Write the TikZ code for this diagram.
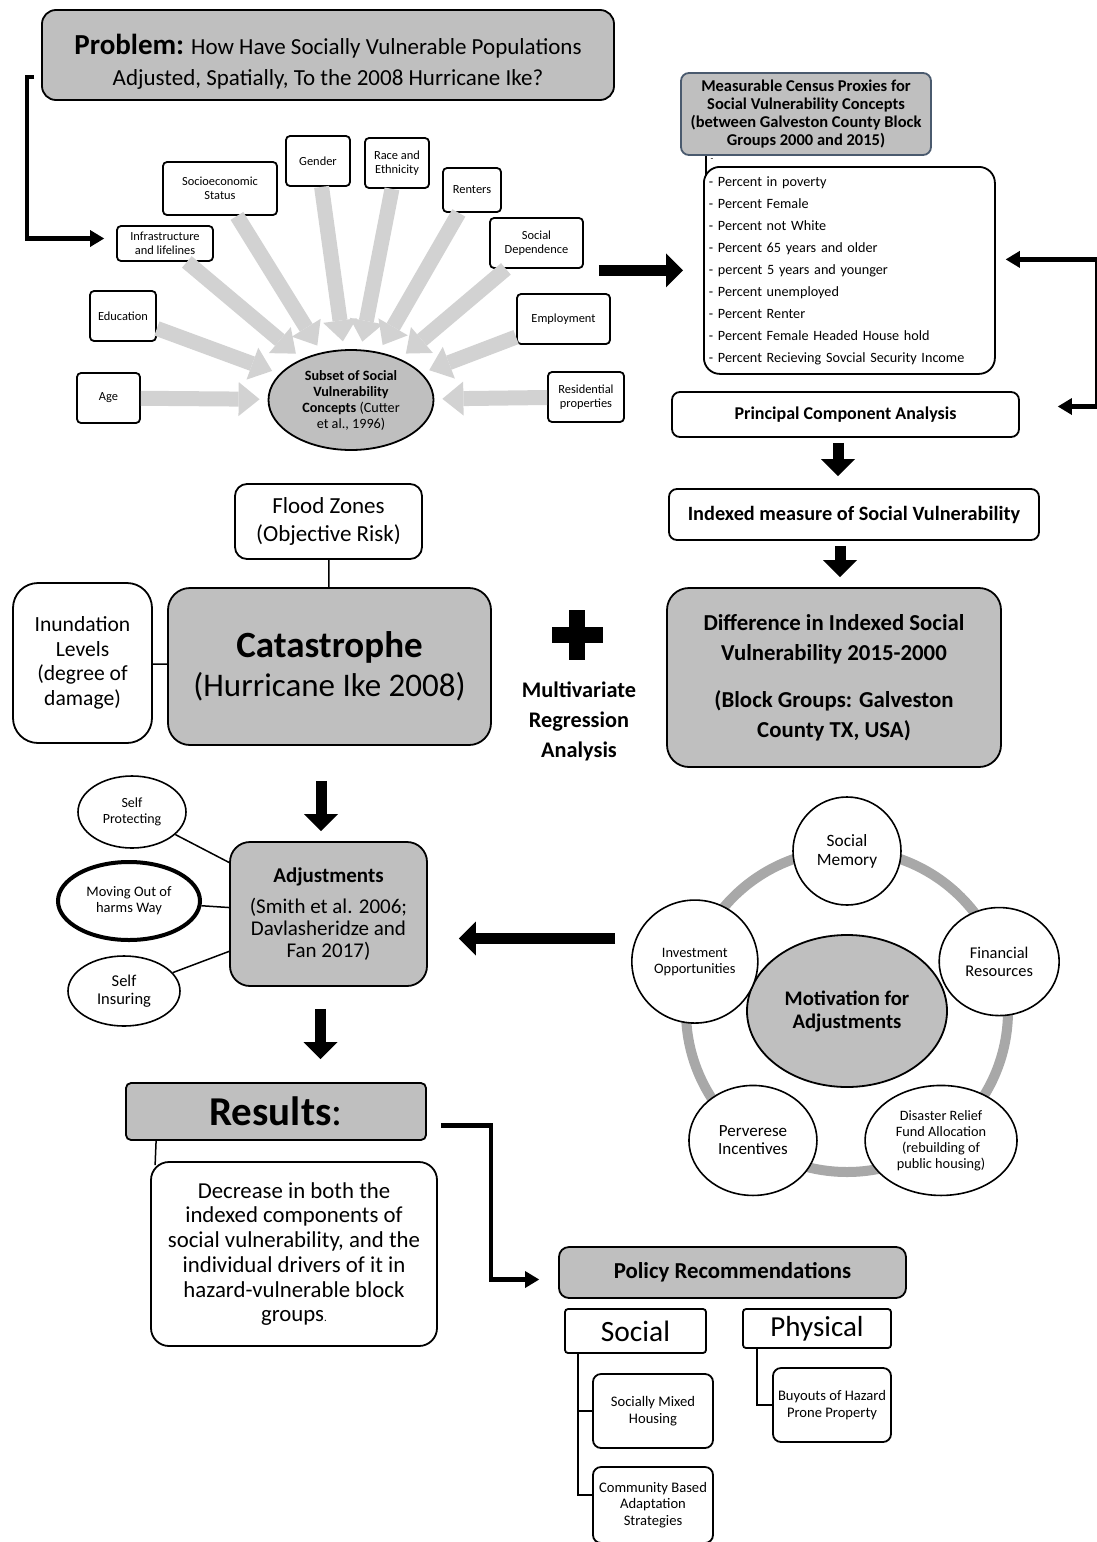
\documentclass[tikz,border=0pt]{standalone}
\usepackage{fontspec}
\setmainfont{Carlito}
\usepackage{tikz}
\usetikzlibrary{shapes.geometric, arrows.meta, positioning}

\definecolor{boxgrey}{HTML}{BFBFBF}
\definecolor{fatgrey}{HTML}{D2D2D2}
\definecolor{ringgrey}{HTML}{A8A8A8}
\definecolor{slateedge}{HTML}{4A5A6E}
\newcommand{\fsz}[2]{\fontsize{#1}{#2}\selectfont}

\begin{document}
\begin{tikzpicture}[
        x=1pt, y=-1pt,
        box/.style={rectangle, draw, line width=1.8pt, rounded corners=10pt, align=center, inner sep=0pt, fill=white},
        greybox/.style={box, fill=boxgrey},
        concept/.style={box, line width=1.8pt, rounded corners=4pt, font=\fsz{12.4}{13.5}},
        bubble/.style={ellipse, draw, line width=1.6pt, align=center, inner sep=0pt, fill=white},
        fat/.style={line width=15pt, draw=fatgrey, -{Triangle[width=34pt,length=21pt,line width=0pt]}, shorten >=8pt},
        blk/.style={line width=11pt, -{Triangle[width=34pt,length=17pt,line width=0pt]}},
        elbow/.style={line width=4.5pt, -{Triangle[width=17pt,length=14pt,line width=0pt]}},
        link/.style={line width=1.5pt}
    ]
    \useasboundingbox (0,0) rectangle (1097,1542);

    % Problem statement
    \node[greybox, rounded corners=14pt, minimum width=572pt, minimum height=90pt, font=\fsz{23}{31}] (prob) at (328,55)
        {\rule{0pt}{34pt}{\fsz{29}{31}\bfseries Problem:} How Have Socially Vulnerable Populations\\Adjusted, Spatially, To the 2008 Hurricane Ike?};

    % Concepts
    \node[greybox, ellipse, minimum width=165pt, minimum height=100pt, font=\fsz{14.2}{16}] (sub) at (351,400)
        {\textbf{Subset of Social}\\\textbf{Vulnerability}\\\textbf{Concepts} (Cutter\\et\ al., 1996)};
    \node[concept, minimum width=96pt, minimum height=35pt] (infra) at (165,243.5) {Infrastructure\\and lifelines};
    \node[concept, minimum width=114pt, minimum height=53pt, font=\fsz{12.4}{14}] (soc) at (220,188.5) {Socioeconomic\\Status};
    \node[concept, minimum width=64pt, minimum height=50pt] (gen) at (318,161) {Gender};
    \node[concept, minimum width=64pt, minimum height=50pt, font=\fsz{12.4}{14}] (race) at (397,163) {Race and\\Ethnicity};
    \node[concept, minimum width=58pt, minimum height=44pt] (rent) at (472,190) {Renters};
    \node[concept, minimum width=93pt, minimum height=50pt, font=\fsz{12.4}{14}] (dep) at (536.5,243) {Social\\Dependence};
    \node[concept, minimum width=66pt, minimum height=50pt] (edu) at (123,316) {Education};
    \node[concept, minimum width=93pt, minimum height=50pt] (emp) at (563.5,319) {Employment};
    \node[concept, minimum width=63pt, minimum height=50pt] (age) at (108.5,398) {Age};
    \node[concept, minimum width=76pt, minimum height=50pt, font=\fsz{12.4}{14}] (resid) at (586,397) {Residential\\properties};

    \foreach \c in {age, edu, infra, soc, gen, race, rent, dep, emp, resid}
        \draw[fat] (\c) -- (sub);

    \draw[elbow] ([xshift=-7pt,yshift=-22pt]prob.west) -- ++(-7,0) |- ([xshift=-12pt,yshift=5pt]infra.west);

    % Census proxies
    \node[greybox, draw=slateedge, rounded corners=8pt, minimum width=250pt, minimum height=82pt, font=\fsz{16.5}{18}\bfseries] (proxy) at (806,114)
        {Measurable Census Proxies for\\Social Vulnerability Concepts\\(between Galveston County Block\\Groups 2000 and 2015)};
    \node[box, rounded corners=16pt, anchor=north west, text width=281pt, inner xsep=5pt, minimum height=207pt, align=left, font=\fsz{14.2}{22}] (list) at (703,166)
        {- Percent in poverty\\- Percent Female\\- Percent not White\\- Percent 65 years and older\\- percent 5 years and younger\\- Percent unemployed\\- Percent Renter\\- Percent Female Headed House hold\\- Percent Recieving Sovcial Security Income};
    \node[font=\fsz{9}{9}, inner sep=0pt] (dash) at (712,160) {-};
    \draw[link] ([xshift=-100pt]proxy.south) -- ([xshift=3pt,yshift=-10pt]list.north west);

    \draw[blk] ([xshift=15pt]dep.east |- list.west) -- ([xshift=-20pt]list.west);

    \node[box, rounded corners=8pt, minimum width=347pt, minimum height=45pt, font=\fsz{18}{20}\bfseries] (pca) at (845.5,414.5) {Principal Component Analysis};
    \draw[elbow, {Triangle[width=17pt,length=14pt,line width=0pt]}-{Triangle[width=17pt,length=14pt,line width=0pt]}]
        ([xshift=10pt,yshift=11pt]list.east) -- ++(91,0) |- ([xshift=38pt,yshift=8pt]pca.east);

    \node[box, rounded corners=8pt, minimum width=370pt, minimum height=51pt, font=\fsz{20.3}{22}\bfseries] (idx) at (854,514.5) {Indexed measure of Social Vulnerability};
    \node[greybox, rounded corners=22pt, minimum width=334pt, minimum height=179pt, font=\fsz{22.8}{30}\bfseries] (diff) at (834,677.5)
        {Difference in Indexed Social\\Vulnerability 2015-2000\\[17pt](Block Groups: Galveston\\County TX, USA)};

    \draw[blk, shorten <=5pt, shorten >=12pt] ([xshift=-7.5pt]pca.south) -- ([xshift=-7.5pt]pca.south |- idx.north);
    \draw[blk, shorten <=5pt, shorten >=10pt] ([xshift=-14pt]idx.south) -- ([xshift=-14pt]idx.south |- diff.north);

    % Catastrophe
    \node[greybox, rounded corners=22pt, minimum width=323pt, minimum height=157pt, font=\fsz{33}{39}] (cat) at (329.5,666.5)
        {{\fsz{37}{39}\bfseries Catastrophe}\\(Hurricane Ike 2008)};
    \node[box, rounded corners=12pt, minimum width=187pt, minimum height=75pt, font=\fsz{23}{28}] (flood) at (328.5,521.5) {Flood Zones\\(Objective Risk)};
    \node[box, rounded corners=25pt, minimum width=139pt, minimum height=160pt, font=\fsz{21.6}{24.5}] (inund) at (82.5,663) {Inundation\\Levels\\(degree of\\damage)};
    \draw[link] (flood) -- (cat);
    \draw[link] (inund) -- (cat);

    \fill (569,610) rectangle (585,660);
    \fill (552,627) rectangle (603,643);
    \node[font=\fsz{22.3}{30}\bfseries, align=center] (mra) at (579,721) {Multivariate\\Regression\\Analysis};

    % Adjustments
    \node[greybox, rounded corners=20pt, minimum width=197pt, minimum height=144pt, font=\fsz{21}{22}] (adj) at (328.5,914)
        {\textbf{Adjustments}\\[9pt](Smith et al. 2006;\\Davlasheridze and\\Fan 2017)};
    \draw[blk, shorten <=35pt, shorten >=10pt] ([xshift=-8.5pt]cat.south) -- ([xshift=-8.5pt]cat.south |- adj.north);

    \node[bubble, minimum width=108pt, minimum height=72pt, font=\fsz{14}{16}] (prot) at (132,812) {Self\\Protecting};
    \node[bubble, line width=4pt, minimum width=142pt, minimum height=78pt, font=\fsz{14.5}{16}] (move) at (129,901) {Moving Out of\\harms Way};
    \node[bubble, minimum width=112pt, minimum height=70pt, font=\fsz{16.5}{18}] (ins) at (124,991) {Self\\Insuring};
    \foreach \c in {prot, move, ins}
        \draw[link] (\c) -- (adj);

    % Motivation for adjustments
    \coordinate (hub) at (847,1011);
    \draw[ringgrey, line width=10pt] (hub) circle (161pt);
    \node[greybox, ellipse, minimum width=200pt, minimum height=152pt, font=\fsz{20.7}{23}\bfseries] (mot) at (hub) {Motivation for\\Adjustments};
    \foreach \ang/\nm/\fs/\bs/\w/\h/\txt in {
            90/mem/17.3/19/108/108/{Social\\Memory},
            18/fin/16.4/18/120/108/{Financial\\Resources},
            -54/dis/14.3/16/152/110/{Disaster Relief\\Fund Allocation\\(rebuilding of\\public housing)},
            -126/per/17/18/128/110/{Perverese\\Incentives},
            162/inv/14.4/16/126/123/{Investment\\Opportunities}}
        \node[bubble, minimum width=\w pt, minimum height=\h pt, font=\fsz{\fs}{\bs}] (\nm) at ([shift={(\ang:160pt)}]hub) {\txt};

    \draw[blk] ([xshift=-16pt,yshift=23pt]inv.west) -- ([xshift=31pt,yshift=23pt]inv.west -| adj.east);

    % Results
    \node[greybox, rounded corners=5pt, minimum width=300pt, minimum height=57pt, font=\fsz{41}{44}] (result) at (276,1111.5) {\textbf{Results}:};
    \draw[blk, shorten <=22pt, shorten >=23pt] ([xshift=-8pt]adj.south) -- ([xshift=-8pt]adj.south |- result.north);
    \node[box, rounded corners=18pt, minimum width=286pt, minimum height=184pt, font=\fsz{22.8}{24.7}] (dec) at (294,1254)
        {Decrease in both the\\indexed components of\\social vulnerability, and the\\individual drivers of it in\\hazard-vulnerable block\\groups{\fsz{11}{11}.}};
    \draw[link] ([xshift=31pt]result.south west) -- ([xshift=5pt,yshift=-4pt]dec.north west);

    % Policy recommendations
    \node[greybox, rounded corners=10pt, minimum width=347pt, minimum height=51pt, font=\fsz{22.8}{24}\bfseries] (pol) at (732.5,1272.5) {Policy Recommendations};
    \draw[elbow] ([xshift=14pt,yshift=-14pt]result.east) -- ++(50,0) |- ([xshift=-19pt,yshift=-7pt]pol.west);

    \node[box, rounded corners=3pt, minimum width=141pt, minimum height=44pt, font=\fsz{29.5}{30}] (social) at (635.5,1331) {Social};
    \node[box, rounded corners=3pt, minimum width=148pt, minimum height=39pt, font=\fsz{29}{30}] (phys) at (817,1328.5) {Physical};
    \node[box, rounded corners=8pt, minimum width=120pt, minimum height=74pt, font=\fsz{14.6}{16.5}] (mixed) at (653,1411) {Socially Mixed\\Housing};
    \node[box, rounded corners=8pt, minimum width=120pt, minimum height=76pt, font=\fsz{14.6}{16.5}] (cba) at (653,1505) {Community Based\\Adaptation\\Strategies};
    \node[box, rounded corners=8pt, minimum width=118pt, minimum height=74pt, font=\fsz{14.6}{16.5}] (buy) at (832,1405) {Buyouts of Hazard\\Prone Property};
    \draw[link] ([xshift=14pt]social.south west) |- (mixed.west);
    \draw[link] ([xshift=14pt]social.south west) |- ([yshift=10pt]cba.west);
    \draw[link] ([xshift=15pt]phys.south west) |- (buy.west);

\end{tikzpicture}
\end{document}
